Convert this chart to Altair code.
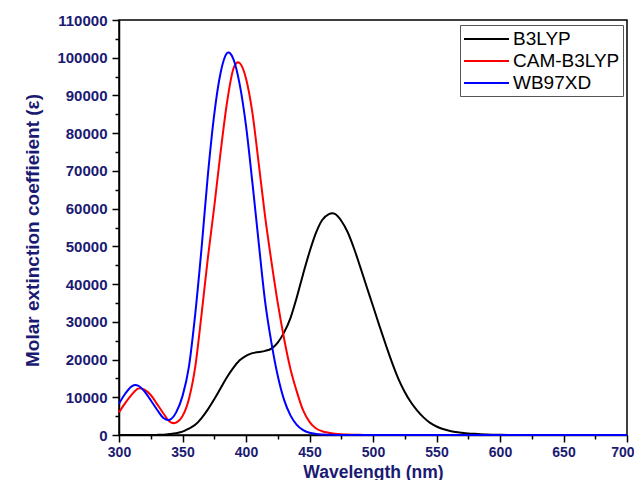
import altair as alt
import pandas as pd

wavelength = [300, 305, 310, 315, 320, 325, 330, 335, 340, 345, 350, 355, 360, 365, 370,
              375, 380, 385, 390, 395, 400, 405, 410, 415, 420, 425, 430, 435, 440, 445,
              450, 455, 460, 465, 470, 475, 480, 485, 490, 495, 500, 505, 510, 515, 520,
              525, 530, 535, 540, 545, 550, 555, 560, 565, 570, 575, 580, 585, 590, 595,
              600, 610, 620, 650, 700]

b3lyp = [0, 0, 0, 0, 0, 0, 30, 100, 270, 500, 880, 1700, 2700, 4500, 6800,
         9500, 12400, 15300, 17800, 19800, 21000, 21700, 22000, 22300, 22900, 24500, 27200, 31000, 36500, 42700,
         48500, 53500, 57000, 58500, 58600, 56800, 53800, 49500, 44500, 39300, 34200, 29000, 24000, 19200, 14900,
         11400, 8600, 6400, 4600, 3200, 2250, 1600, 1150, 820, 600, 420, 300, 200, 130, 80,
         50, 15, 0, 0, 0]

cam_b3lyp = [6000, 8500, 10700, 12300, 12000, 10600, 8200, 5700, 3500, 3300, 5000, 9500, 18000, 32000, 47000,
             60500, 75000, 88000, 97000, 98600, 94500, 85500, 72000, 58000, 46000, 35000, 25500, 17500, 11500, 6500,
             3500, 1800, 1000, 600, 350, 200, 120, 70, 40, 20, 0, 0, 0, 0, 0,
             0, 0, 0, 0, 0, 0, 0, 0, 0, 0, 0, 0, 0, 0, 0,
             0, 0, 0, 0, 0]

wb97xd = [8300, 11000, 12900, 13100, 11600, 9200, 6700, 4500, 4050, 6000, 10300, 18000, 32000, 49500, 69000,
          85000, 96000, 101200, 99700, 93000, 82000, 67000, 51000, 35500, 24500, 15700, 9300, 5200, 2700, 1300,
          600, 280, 120, 60, 30, 10, 0, 0, 0, 0, 0, 0, 0, 0, 0,
          0, 0, 0, 0, 0, 0, 0, 0, 0, 0, 0, 0, 0, 0, 0,
          0, 0, 0, 0, 0]

methods = ["B3LYP", "CAM-B3LYP", "WB97XD"]
colors = ["#000000", "#ff0000", "#0000ff"]
x_major = list(range(300, 701, 50))
x_minor = list(range(325, 700, 50))
y_major = list(range(0, 110001, 10000))
y_minor = list(range(5000, 110000, 10000))

rows = []
for name, vals in zip(methods, [b3lyp, cam_b3lyp, wb97xd]):
    for w, v in zip(wavelength, vals):
        rows.append({"wavelength": w, "value": v, "method": name})
df = pd.DataFrame(rows)

navy = "#1a1a72"
font = "Liberation Sans"

x_scale = alt.Scale(domain=[300, 700], nice=False, zero=False)
y_scale = alt.Scale(domain=[0, 110000], nice=False)

x_axis = alt.Axis(
    values=x_major, orient="bottom", tickSize=7,
    title="Wavelength (nm)",
    titleFont=font, titleFontSize=17.5, titleFontWeight="bold", titleColor=navy,
    titleY=42, titleBaseline="alphabetic",
    labelFont=font, labelFontSize=14, labelFontWeight="bold", labelColor=navy,
    labelPadding=3, labelOverlap=False, labelFlush=False,
    labelAlign={"condition": {"test": "datum.value === 700", "value": "right"}, "value": "center"},
    labelOffset={"condition": {"test": "datum.value === 700", "value": 7}, "value": 0},
    domainColor="#000000", domainWidth=1.5, tickColor="#000000", tickWidth=1.5,
    grid=False,
)

y_axis = alt.Axis(
    values=y_major, orient="left", format="d", tickSize=7,
    title="Molar extinction coeffieient (ε)",
    titleFont=font, titleFontSize=19, titleFontWeight="bold", titleColor=navy,
    titleX=-81, titleY=210, titleBaseline="alphabetic", titleAngle=270,
    labelFont=font, labelFontSize=15, labelFontWeight="bold", labelColor=navy,
    labelPadding=5, labelOverlap=False,
    domainColor="#000000", domainWidth=1.5, tickColor="#000000", tickWidth=1.5,
    grid=False,
)

x_axis_minor = alt.Axis(
    values=x_minor, orient="bottom", tickSize=4, labels=False, domain=False,
    title=None, tickColor="#000000", tickWidth=1.5, grid=False,
)
y_axis_minor = alt.Axis(
    values=y_minor, orient="left", tickSize=4, labels=False, domain=False,
    title=None, tickColor="#000000", tickWidth=1.5, grid=False,
)

legend = alt.Legend(
    title=None,
    orient="none", legendX=341, legendY=5,
    symbolType="M-1,0H3.5", symbolSize=400, symbolStrokeWidth=2,
    labelFont=font, labelFontSize=19, labelColor="#000000", labelOffset=28,
    rowPadding=1, padding=3,
    strokeColor="#555555", fillColor="#ffffff",
)

minor = alt.Chart(df).mark_line(opacity=0).encode(
    x=alt.X("wavelength:Q", scale=x_scale, axis=x_axis_minor),
    y=alt.Y("value:Q", scale=y_scale, axis=y_axis_minor),
    detail="method:N",
)

lines = alt.Chart(df).mark_line(strokeWidth=2, interpolate="cardinal").encode(
    x=alt.X("wavelength:Q", scale=x_scale, axis=x_axis),
    y=alt.Y("value:Q", scale=y_scale, axis=y_axis),
    color=alt.Color("method:N", scale=alt.Scale(domain=methods, range=colors), legend=legend),
)

chart = alt.layer(minor, lines).resolve_axis(
    x="independent", y="independent"
).properties(
    width=508, height=415,
    autosize=alt.AutoSizeParams(type="none"),
    padding={"left": 111, "top": 12, "right": 7, "bottom": 45},
    background="#ffffff",
).configure_view(
    stroke="#000000", strokeWidth=1.5,
)

chart.save("out.html", embed_options={"renderer": "svg", "actions": False})
